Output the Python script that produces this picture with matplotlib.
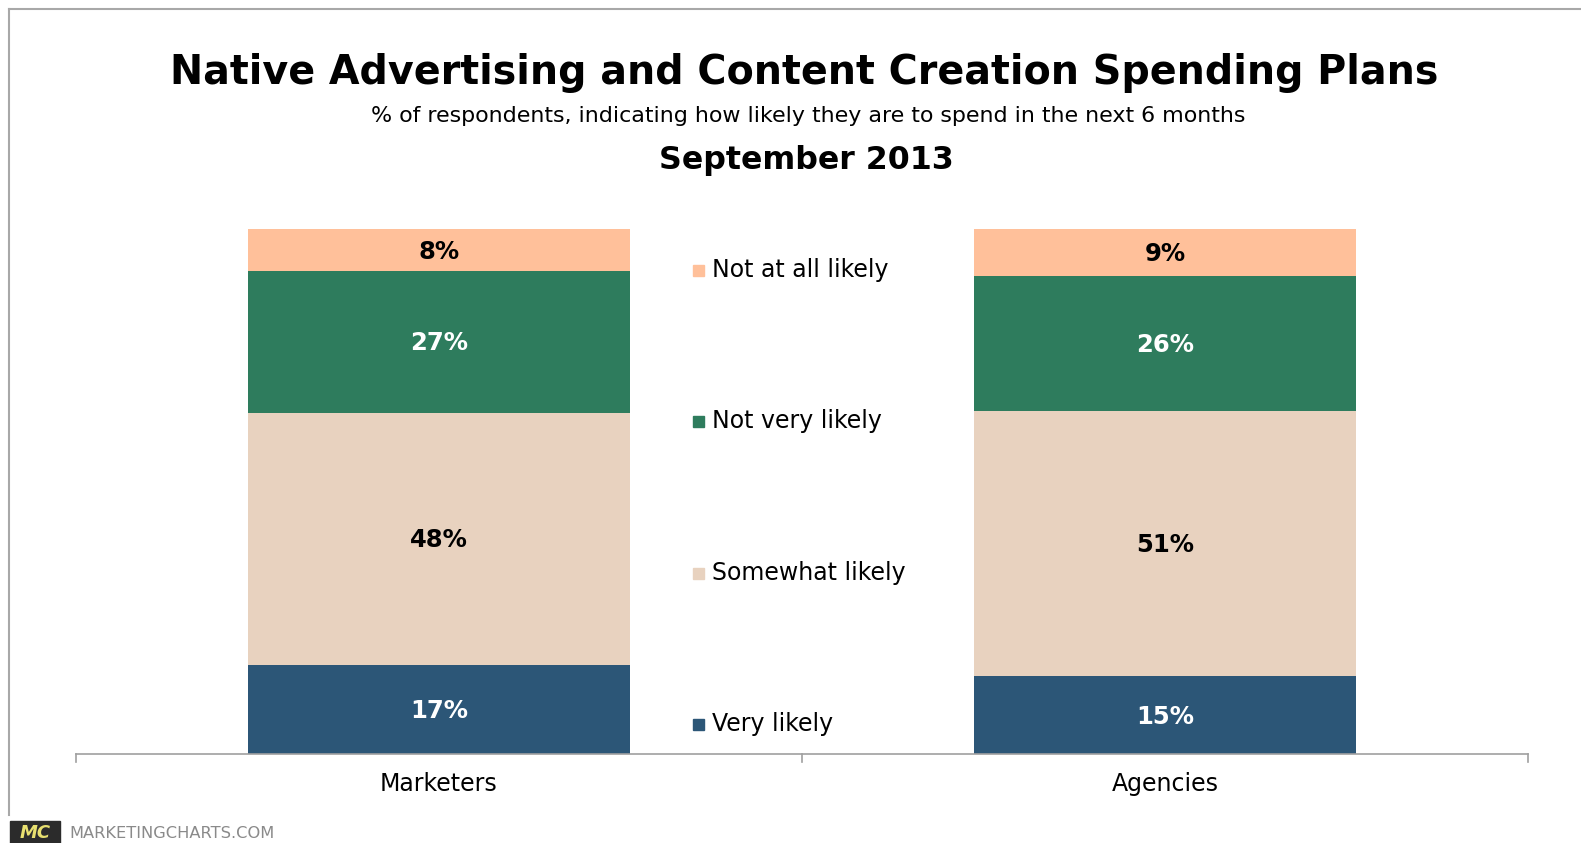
import matplotlib
matplotlib.use("Agg")
import matplotlib.pyplot as plt
from matplotlib.patches import Rectangle
from matplotlib.lines import Line2D

# Survey data (share of respondents, %)
groups = ["Marketers", "Agencies"]
segments = ["Very likely", "Somewhat likely", "Not very likely", "Not at all likely"]
very_likely = [17, 15]
somewhat_likely = [48, 51]
not_very_likely = [27, 26]
not_at_all_likely = [8, 9]
colors = ["#2C5677", "#E8D2BF", "#2E7C5D", "#FFC09A"]
label_colors = ["white", "black", "white", "black"]

series = [very_likely, somewhat_likely, not_very_likely, not_at_all_likely]

W, H = 1581, 843
fig = plt.figure(figsize=(W / 100, H / 100), dpi=100)
fig.patch.set_facecolor("white")
plt.rcParams["font.family"] = ["DejaVu Sans"]

# frame around the chart
fig.add_artist(Line2D([9 / W, 1.0], [1 - 9 / H, 1 - 9 / H], color="#A8A8A8", lw=1.5))
fig.add_artist(Line2D([9 / W, 9 / W], [1 - 9 / H, 1 - 815 / H], color="#A8A8A8", lw=1.5))

ax = fig.add_axes([76 / W, (H - 754) / H, 1452 / W, (754 - 229) / H])
ax.set_xlim(-0.5, 1.5)
ax.set_ylim(0, 100)

# 100% stacked bars
totals = [sum(s[i] for s in series) for i in range(len(groups))]
x = list(range(len(groups)))
bottoms = [0.0] * len(groups)
for vals, col, lc in zip(series, colors, label_colors):
    heights = [v / t * 100 for v, t in zip(vals, totals)]
    ax.bar(x, heights, width=0.526, bottom=bottoms, color=col, edgecolor="none")
    for xi, b, h, v in zip(x, bottoms, heights, vals):
        ax.text(xi, b + h / 2 - 0.3, f"{v}%", ha="center", va="center",
                fontsize=17.5, fontweight="bold", color=lc)
    bottoms = [b + h for b, h in zip(bottoms, heights)]

for s in ["top", "right", "left"]:
    ax.spines[s].set_visible(False)
ax.spines["bottom"].set_color("#A0A0A0")
ax.spines["bottom"].set_linewidth(1.2)
ax.set_yticks([])
ax.set_xticks([])
for xt in [-0.5, 0.5, 1.5]:
    ax.plot([xt, xt], [0, -1.6], color="#A0A0A0", lw=1.2, clip_on=False)
for xi, g in zip(x, groups):
    ax.text(xi, -5.8, g, ha="center", va="center", fontsize=17, color="black")

# legend entries stacked between the bars
legend_y = [724, 573, 421, 270]
for seg, col, ly in zip(segments, colors, legend_y):
    fig.add_artist(Rectangle((693 / W, 1 - (ly + 6) / H), 11 / W, 11 / H,
                             transform=fig.transFigure, color=col))
    fig.text(712 / W, 1 - ly / H, seg, ha="left", va="center", fontsize=17, color="black")

# titles
fig.text(0.5087, 1 - 73 / H, "Native Advertising and Content Creation Spending Plans",
         ha="center", va="center", fontsize=28.5, fontweight="bold")
fig.text(0.511, 1 - 116 / H, "% of respondents, indicating how likely they are to spend in the next 6 months",
         ha="center", va="center", fontsize=15.9)
fig.text(0.510, 1 - 161 / H, "September 2013", ha="center", va="center",
         fontsize=22.8, fontweight="bold")

# footer branding
fig.add_artist(Rectangle((10 / W, 0), 50 / W, 22 / H, transform=fig.transFigure,
                         color="#2B2B2B"))
fig.text(35 / W, 10 / H, "MC", ha="center", va="center", fontsize=13,
         fontweight="bold", color="#E8E070", style="italic")
fig.text(69 / W, 9 / H, "MARKETINGCHARTS.COM", ha="left", va="center",
         fontsize=11.7, color="#8A8A8A")

fig.savefig("out.png", dpi=100, facecolor="white")
